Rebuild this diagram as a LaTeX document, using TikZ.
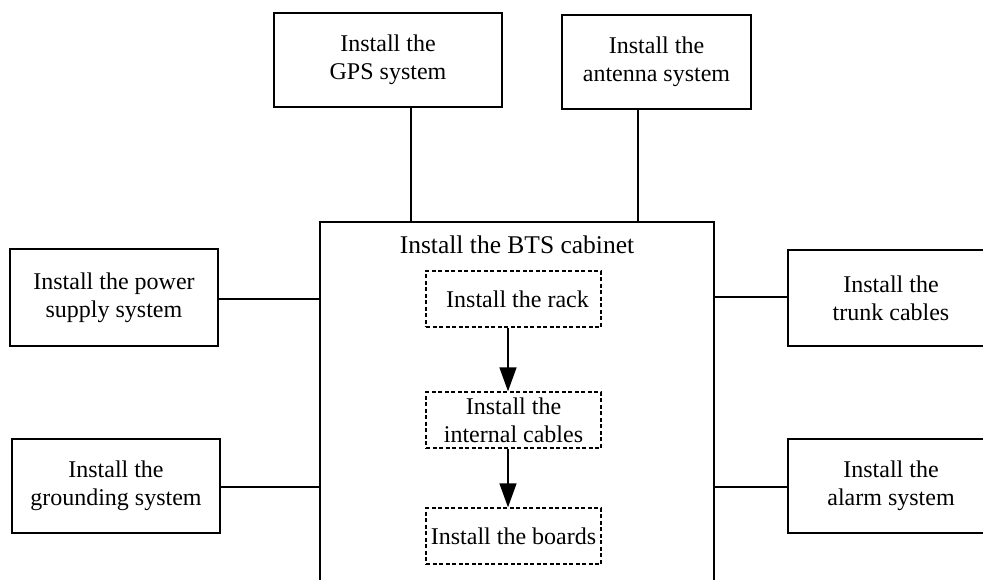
\documentclass[tikz,border=0pt]{standalone}
\usepackage{fontspec}
\setmainfont{Liberation Serif}
\usetikzlibrary{arrows.meta}
\begin{document}
\begin{tikzpicture}[x=1pt,y=-1pt,
  solidbox/.style={draw,line width=1.3pt,rectangle,inner sep=0pt,align=center,
    font=\fontsize{24}{28}\selectfont},
  dashbox/.style={draw,line width=1.3pt,dash pattern=on 4pt off 2.5pt,rectangle,inner sep=0pt,
    align=center,minimum width=175pt,minimum height=56pt,font=\fontsize{24}{28}\selectfont},
  wire/.style={line width=1.3pt},
  flow/.style={line width=1.3pt,-{Triangle[width=17pt,length=24pt]}}]
\useasboundingbox (0,0) rectangle (983,580);
\clip (0,0) rectangle (983,580);
% cabinet
\node[draw,line width=1.3pt,rectangle,inner sep=0pt,minimum width=394pt,minimum height=400pt] (cab) at (517,422) {};
\node[font=\fontsize{25.5}{30}\selectfont] (cabt) at (517,245) {Install the BTS cabinet};
% outer boxes
\node[solidbox,minimum width=228pt,minimum height=94pt] (gps) at (388,60) {Install the\\GPS system};
\node[solidbox,minimum width=189pt,minimum height=94pt] (ant) at (656.5,62) {Install the\\antenna system};
\node[solidbox,minimum width=208pt,minimum height=97pt] (pow) at (114,297.5) {Install the power\\supply system};
\node[solidbox,minimum width=208pt,minimum height=94pt] (gnd) at (116,486) {Install the\\grounding system};
\node[solidbox,minimum width=206pt,minimum height=96pt] (trk) at (891,298) {Install the\\trunk cables};
\node[solidbox,minimum width=206pt,minimum height=94pt] (alm) at (891,486) {Install the\\alarm system};
% inner steps
\node[dashbox] (rack) at (513.5,299) {\hspace*{8pt}Install the rack};
\node[dashbox] (int) at (513.5,420) {Install the\\internal cables};
\node[dashbox] (brd) at (513.5,536) {Install the boards};
% helper coordinates
\coordinate (gx) at (411,0);
\coordinate (ax) at (638,0);
\coordinate (py) at (0,299);
\coordinate (gy) at (0,487);
\coordinate (ty) at (0,297);
\coordinate (ay) at (0,487);
\coordinate (fx) at (508,0);
% connectors
\draw[wire] (gps.south -| gx) -- (cab.north -| gx);
\draw[wire] (ant.south -| ax) -- (cab.north -| ax);
\draw[wire] (pow.east |- py) -- (cab.west |- py);
\draw[wire] (gnd.east |- gy) -- (cab.west |- gy);
\draw[wire] (trk.west |- ty) -- (cab.east |- ty);
\draw[wire] (alm.west |- ay) -- (cab.east |- ay);
\draw[flow] (rack.south -| fx) -- (int.north -| fx);
\draw[flow] (int.south -| fx) -- (brd.north -| fx);
\end{tikzpicture}
\end{document}
